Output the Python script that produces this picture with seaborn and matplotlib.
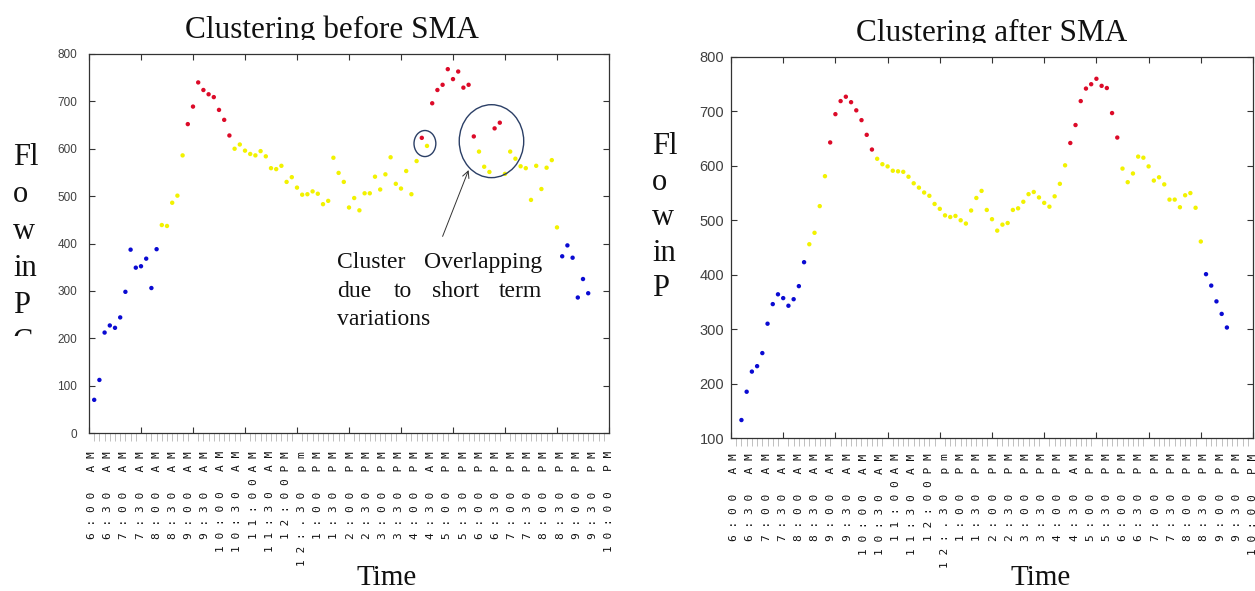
import numpy as np
import pandas as pd
import matplotlib
matplotlib.use("Agg")
import matplotlib.pyplot as plt
import seaborn as sns
from matplotlib.patches import Ellipse
from matplotlib.transforms import Bbox, TransformedBbox
from matplotlib.ticker import NullLocator

# ---------------- data ----------------
time_labels = ["6:00 AM", "6:30 AM", "7:00 AM", "7:30 AM", "8:00 AM", "8:30 AM",
               "9:00 AM", "9:30 AM", "10:00 AM", "10:30 AM", "11:00AM", "11:30 AM",
               "12:00PM", "12:.30 pm", "1:00 PM", "1:30 PM", "2:00 PM", "2:30 PM",
               "3:00 PM", "3:30 PM", "4:00 PM", "4:30 AM", "5:00 PM", "5:30 PM",
               "6:00 PM", "6:30 PM", "7:00 PM", "7:30 PM", "8:00 PM", "8:30 PM",
               "9:00 PM", "9:30 PM", "10:00 PM"]

# flow before SMA (10-minute samples 1..96)
before_flow = [70, 112, 212, 227, 222, 244, 298, 387, 349, 352,
               368, 306, 388, 439, 437, 486, 501, 586, 652, 689,
               740, 724, 715, 709, 682, 661, 628, 600, 609, 596,
               589, 586, 595, 584, 559, 557, 564, 530, 540, 518,
               503, 504, 510, 505, 483, 490, 581, 549, 530, 476,
               496, 470, 506, 506, 541, 514, 546, 582, 526, 516,
               553, 504, 574, 623, 606, 696, 724, 735, 768, 747,
               763, 729, 735, 626, 594, 562, 551, 643, 655, 547,
               594, 579, 563, 559, 492, 564, 515, 560, 576, 434,
               373, 396, 370, 286, 325, 295]
before_runs = [("low", 13), ("mid", 5), ("high", 9), ("mid", 36), ("high", 1),
               ("mid", 1), ("high", 9), ("mid", 3), ("high", 2), ("mid", 11), ("low", 6)]

# flow after SMA (samples 2..95)
after_flow = [133, 185, 222, 232, 256, 310, 346, 364, 357, 343,
              355, 379, 423, 456, 477, 526, 581, 643, 695, 719,
              727, 717, 702, 684, 657, 630, 613, 603, 599, 591,
              590, 589, 580, 568, 560, 551, 545, 530, 521, 509,
              506, 508, 500, 494, 518, 541, 554, 519, 502, 481,
              492, 495, 519, 522, 534, 548, 552, 542, 532, 525,
              544, 567, 601, 642, 675, 719, 742, 750, 760, 747,
              743, 697, 652, 595, 570, 586, 617, 615, 599, 573,
              579, 566, 538, 538, 524, 546, 550, 523, 461, 401,
              380, 351, 328, 303]
after_runs = [("low", 13), ("mid", 4), ("high", 9), ("mid", 37), ("high", 10),
              ("mid", 16), ("low", 5)]

palette = {"low": "#0a0ad2", "mid": "#f2f200", "high": "#dc0a28"}


def expand(runs):
    out = []
    for name, n in runs:
        out += [name] * n
    return out


df_before = pd.DataFrame({"t": np.arange(1, 1 + len(before_flow)),
                          "flow": before_flow, "cluster": expand(before_runs)})
df_after = pd.DataFrame({"t": np.arange(2, 2 + len(after_flow)),
                         "flow": after_flow, "cluster": expand(after_runs)})

# ---------------- figure ----------------
sns.set_theme(style="white")
plt.rcParams["font.family"] = ["DejaVu Sans"]

W, H = 1255, 591
fig = plt.figure(figsize=(W / 100, H / 100), dpi=100)


def px_rect(l, t, r, b):
    return [l / W, 1 - b / H, (r - l) / W, (b - t) / H]


SERIF = "Liberation Serif"
label_pos = np.linspace(0.6, 100.0, len(time_labels))
spaced = [" ".join(lbl) for lbl in time_labels]


def draw_panel(ax, df, ymin, ymax, ysize, ypad, lab_pad):
    sns.scatterplot(data=df, x="t", y="flow", hue="cluster", palette=palette,
                    s=10, linewidth=0, legend=False, ax=ax, zorder=3)
    ax.set_xlim(0, 100)
    ax.set_ylim(ymin, ymax)
    ax.set_xticks(np.arange(0, 101, 10))
    ax.set_xticklabels([])
    ax.set_xticks(np.arange(0, 101, 1), minor=True)
    ax.set_yticks(np.arange(ymin, ymax + 1, 100))
    ax.tick_params(axis="x", which="major", direction="in", length=4,
                   top=True, bottom=True, color="#333333", width=0.8)
    ax.tick_params(axis="x", which="minor", direction="out", length=6,
                   top=False, bottom=True, color="#b5b5b5", width=0.6)
    ax.tick_params(axis="y", which="major", direction="in", length=4,
                   left=True, right=True, color="#333333", width=0.8,
                   labelsize=ysize, labelcolor="#404040", pad=ypad)
    for lab in ax.get_yticklabels():
        lab.set_fontfamily("Liberation Sans")
    for s in ax.spines.values():
        s.set_visible(True)
        s.set_color("#333333")
        s.set_linewidth(0.9)
    ax.set_xlabel("")
    ax.set_ylabel("")
    sec = ax.secondary_xaxis("bottom")
    sec.set_xticks(label_pos, spaced)
    sec.xaxis.set_minor_locator(NullLocator())
    sec.tick_params(length=0, pad=lab_pad, labelsize=8, labelcolor="#111111")
    for lab in sec.get_xticklabels():
        lab.set_rotation(90)
        lab.set_fontfamily("DejaVu Sans Mono")
    sec.spines["bottom"].set_visible(False)


axL = fig.add_axes(px_rect(89, 54, 609, 433))
axR = fig.add_axes(px_rect(731, 57, 1253, 438))
draw_panel(axL, df_before, 0, 800, 8.5, 8.5, 13)
draw_panel(axR, df_after, 100, 800, 10.5, 5, 11)


def clip_below(t, y_px):
    bb = TransformedBbox(Bbox.from_extents(0, 1 - y_px / H, 1, 1), fig.transFigure)
    t.set_clip_box(bb)
    t.set_clip_on(True)


# titles (bottoms clipped as in the reference)
t1 = fig.text(332 / W, 1 - 38 / H, "Clustering before SMA", ha="center",
              va="baseline", fontsize=22.5, family=SERIF, color="#111111")
clip_below(t1, 40)
t2 = fig.text(992 / W, 1 - 41 / H, "Clustering after SMA", ha="center",
              va="baseline", fontsize=22.5, family=SERIF, color="#111111")
clip_below(t2, 43)

# y labels written letter-wise (clipped)
y1 = fig.text(13 / W, 1 - 143 / H, "Fl\no\nw\nin\nP\nC", ha="left", va="top",
              fontsize=22, family=SERIF, linespacing=1.36, color="#111111")
clip_below(y1, 336)
y2 = fig.text(652 / W, 1 - 132 / H, "Fl\no\nw\nin\nP", ha="left", va="top",
              fontsize=22, family=SERIF, linespacing=1.3, color="#111111")

# x labels
fig.text(387 / W, 1 - 585 / H, "Time", ha="center", va="baseline",
         fontsize=21, family=SERIF, color="#111111")
fig.text(1041 / W, 1 - 585 / H, "Time", ha="center", va="baseline",
         fontsize=21, family=SERIF, color="#111111")

# annotation: ellipses + arrow + justified text
ec = "#2b3f66"
axL.add_patch(Ellipse((64.6, 611), 4.2, 55, fill=False, ec=ec, lw=1.0, zorder=4))
axL.add_patch(Ellipse((77.4, 616), 12.4, 154, fill=False, ec=ec, lw=1.0, zorder=4))
axL.annotate("", xy=(73.0, 555), xytext=(68.0, 415),
             arrowprops=dict(arrowstyle="->", color="#333333", lw=0.7,
                             shrinkA=0, shrinkB=0))

ann_kw = dict(fontsize=17, family=SERIF, color="#111111", va="baseline")
words = [("Cluster", 337, 268, "left"), ("Overlapping", 542, 268, "right"),
         ("due", 337, 297, "left"), ("to", 394, 297, "left"),
         ("short", 432, 297, "left"), ("term", 542, 297, "right"),
         ("variations", 337, 325, "left")]
for w, xp, yp, ha in words:
    fig.text(xp / W, 1 - yp / H, w, ha=ha, **ann_kw)

fig.savefig("out.png", dpi=100)
